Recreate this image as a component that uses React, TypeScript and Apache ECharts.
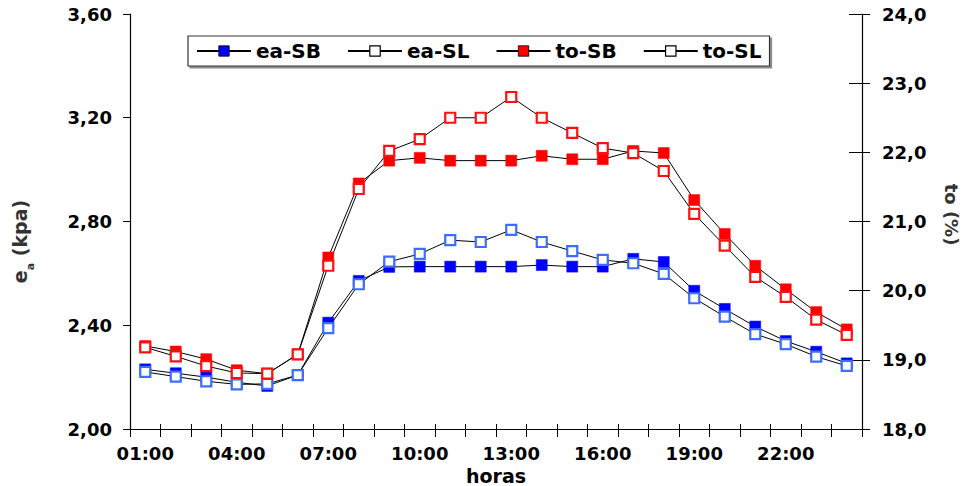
import React, { useEffect, useRef } from "react";
import * as echarts from "echarts";

const hours = ["01:00","02:00","03:00","04:00","05:00","06:00","07:00","08:00","09:00","10:00","11:00","12:00","13:00","14:00","15:00","16:00","17:00","18:00","19:00","20:00","21:00","22:00","23:00","24:00"];
const eaSB = [2.23, 2.215, 2.20, 2.18, 2.166, 2.208, 2.41, 2.571, 2.625, 2.626, 2.626, 2.626, 2.626, 2.632, 2.626, 2.626, 2.656, 2.644, 2.533, 2.463, 2.395, 2.339, 2.298, 2.253];
const eaSL = [2.22, 2.202, 2.184, 2.172, 2.174, 2.208, 2.389, 2.558, 2.645, 2.675, 2.728, 2.721, 2.768, 2.721, 2.686, 2.652, 2.639, 2.598, 2.504, 2.433, 2.366, 2.327, 2.279, 2.243];
const toSB = [19.20, 19.12, 19.01, 18.85, 18.80, 19.08, 20.48, 21.55, 21.88, 21.92, 21.88, 21.88, 21.88, 21.95, 21.90, 21.90, 22.02, 21.99, 21.31, 20.82, 20.36, 20.02, 19.69, 19.44];
const toSL = [19.18, 19.05, 18.91, 18.81, 18.80, 19.08, 20.36, 21.47, 22.02, 22.19, 22.50, 22.50, 22.80, 22.50, 22.28, 22.06, 21.99, 21.73, 21.11, 20.65, 20.20, 19.91, 19.58, 19.36];

const FONT = "DejaVu Sans";

export default function App() {
  const ref = useRef<HTMLDivElement>(null);
  useEffect(() => {
    if (!ref.current) return;
    const chart = echarts.init(ref.current, null, { renderer: "svg" });
    const lbl = { fontFamily: FONT, fontWeight: "bold", fontSize: 18, color: "#000" };
    const line = { color: "#000", width: 1 };
    chart.setOption({
      animation: false,
      backgroundColor: "#fff",
      grid: { left: 130, right: 105, top: 14, bottom: 57, containLabel: false, outerBoundsMode: "none" },
      legend: {
        left: 188,
        top: 36,
        padding: [5, 8],
        itemGap: 26,
        itemWidth: 54,
        itemHeight: 13,
        borderColor: "#333",
        borderWidth: 1.2,
        shadowColor: "rgba(0,0,0,0.45)",
        shadowOffsetX: 2,
        shadowOffsetY: 2,
        shadowBlur: 0,
        backgroundColor: "#fff",
        textStyle: { fontFamily: FONT, fontWeight: "bold", fontSize: 20, color: "#000" },
        data: [
          { name: "ea-SB", itemStyle: { color: "#0000ff", borderColor: "#000", borderWidth: 0.8 } },
          { name: "ea-SL", itemStyle: { color: "#fff", borderColor: "#000", borderWidth: 1.2 } },
          { name: "to-SB", itemStyle: { color: "#ff0000", borderColor: "#000", borderWidth: 0.8 } },
          { name: "to-SL", itemStyle: { color: "#fff", borderColor: "#000", borderWidth: 1.2 } },
        ],
      },
      xAxis: [
        {
          type: "category",
          data: hours,
          position: "bottom",
          boundaryGap: true,
          name: "horas",
          nameLocation: "middle",
          nameGap: 33,
          nameTextStyle: { fontFamily: FONT, fontWeight: "bold", fontSize: 19, color: "#000" },
          axisLine: { lineStyle: { color: "#000", width: 1.2 } },
          axisTick: { show: true, interval: 0, length: 8, lineStyle: { color: "#000" } },
          axisLabel: { ...lbl, interval: 2, margin: 15 },
          splitLine: { show: false },
        },
        {
          type: "category",
          data: hours,
          position: "bottom",
          boundaryGap: true,
          axisLine: { show: false },
          axisTick: { show: true, inside: true, interval: 0, length: 5, lineStyle: { color: "#000" } },
          axisLabel: { show: false },
          splitLine: { show: false },
        },
      ],
      yAxis: [
        {
          type: "value",
          position: "left",
          min: 2.0,
          max: 3.6,
          interval: 0.4,
          name: "{b|e}{s|a}{b| (kpa)}",
          nameLocation: "middle",
          nameGap: 94,
          nameRotate: 90,
          nameTextStyle: {
            color: "#333",
            padding: [0, 40, 0, 0],
            rich: {
              b: { fontFamily: FONT, fontWeight: "bold", fontSize: 19, color: "#333", lineHeight: 22, verticalAlign: "top" },
              s: { fontFamily: FONT, fontWeight: "bold", fontSize: 11, color: "#333", lineHeight: 26, verticalAlign: "bottom" },
            },
          },
          axisLine: { show: true, lineStyle: { color: "#000", width: 1.2 } },
          axisTick: { show: true, length: 7, lineStyle: { color: "#000" } },
          axisLabel: { ...lbl, margin: 18, formatter: (v: number) => v.toFixed(2).replace(".", ",") },
          splitLine: { show: false },
        },
        {
          type: "value",
          position: "right",
          min: 18,
          max: 24,
          interval: 1,
          name: "to (%)",
          nameLocation: "middle",
          nameGap: 80,
          nameRotate: -90,
          nameTextStyle: { fontFamily: FONT, fontWeight: "bold", fontSize: 18, color: "#333", padding: [0, 14, 0, 0] },
          axisLine: { show: true, lineStyle: { color: "#000", width: 1.2 } },
          axisTick: { show: true, length: 8, lineStyle: { color: "#000" } },
          axisLabel: { ...lbl, margin: 20, formatter: (v: number) => v.toFixed(1).replace(".", ",") },
          splitLine: { show: false },
        },
        {
          type: "value",
          position: "right",
          min: 18,
          max: 24,
          interval: 1,
          axisLine: { show: false },
          axisTick: { show: true, inside: true, length: 13, lineStyle: { color: "#000" } },
          axisLabel: { show: false },
          splitLine: { show: false },
        },
      ],
      series: [
        {
          name: "ea-SB", type: "line", xAxisIndex: 0, yAxisIndex: 0, data: eaSB,
          symbol: "rect", symbolSize: 11, lineStyle: line,
          itemStyle: { color: "#0000ff", borderColor: "#0000ff", borderWidth: 0.5 },
        },
        {
          name: "ea-SL", type: "line", xAxisIndex: 0, yAxisIndex: 0, data: eaSL,
          symbol: "rect", symbolSize: 10, lineStyle: line,
          itemStyle: { color: "#fff", borderColor: "#3d6dff", borderWidth: 2.2 },
        },
        {
          name: "to-SB", type: "line", xAxisIndex: 0, yAxisIndex: 1, data: toSB,
          symbol: "rect", symbolSize: 11, lineStyle: line,
          itemStyle: { color: "#ff0000", borderColor: "#ff0000", borderWidth: 0.5 },
        },
        {
          name: "to-SL", type: "line", xAxisIndex: 0, yAxisIndex: 1, data: toSL,
          symbol: "rect", symbolSize: 10, lineStyle: line,
          itemStyle: { color: "#fff", borderColor: "#ff1010", borderWidth: 2.2 },
        },
      ],
    });
    return () => chart.dispose();
  }, []);
  return <div ref={ref} style={{ position: "fixed", left: 0, top: 0, width: 967, height: 486 }} />;
}
